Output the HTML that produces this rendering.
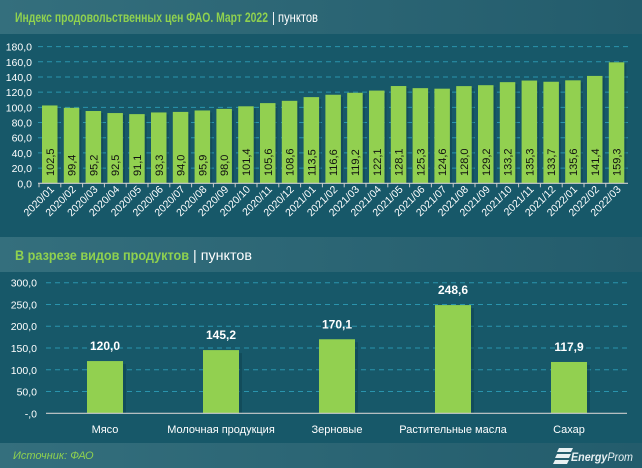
<!DOCTYPE html>
<html><head><meta charset="utf-8"><style>
body{margin:0;background:#175869;}
svg{display:block;font-family:"Liberation Sans",sans-serif;}
</style></head><body>
<svg width="642" height="468" viewBox="0 0 642 468" xmlns="http://www.w3.org/2000/svg">
<defs>
<linearGradient id="hg" x1="0" x2="1" y1="0" y2="0"><stop offset="0" stop-color="#346f7d"/><stop offset="1" stop-color="#235c6c"/></linearGradient>
</defs>
<rect width="642" height="468" fill="#175869"/>
<rect x="0" y="0" width="642" height="34" fill="url(#hg)"/>
<rect x="0" y="237" width="642" height="35" fill="url(#hg)"/>
<rect x="0" y="443" width="642" height="25" fill="url(#hg)"/>
<text x="15" y="22" font-size="14" font-weight="bold" fill="#8fd14f" textLength="253" lengthAdjust="spacingAndGlyphs">Индекс продовольственных цен ФАО. Март 2022</text>
<text x="272" y="22" font-size="14" fill="#ffffff" textLength="46" lengthAdjust="spacingAndGlyphs">| пунктов</text>
<text x="15" y="260" font-size="13.5" font-weight="bold" fill="#8fd14f" textLength="174" lengthAdjust="spacingAndGlyphs">В разрезе видов продуктов</text>
<text x="193" y="260" font-size="13.5" fill="#ffffff" textLength="59" lengthAdjust="spacingAndGlyphs">| пунктов</text>
<text x="13" y="459" font-size="11" font-style="italic" fill="#8fd14f">Источник: ФАО</text>
<g transform="translate(555,448)"><path d="M4 0h14l-2 4h-14z M2 6h14l-2 4h-14z M0 12h14l-2 4h-14z" fill="#e8f0f2"/></g>
<text x="571" y="461" font-size="12" font-weight="bold" font-style="italic" fill="#e8f0f2" textLength="62" lengthAdjust="spacingAndGlyphs">Energy<tspan font-weight="normal">Prom</tspan></text>
<g id="gtop"></g>
<g id="gbot"></g>
</svg>
<script>
var ns="http://www.w3.org/2000/svg";
function el(p,t,a,txt){var e=document.createElementNS(ns,t);for(var k in a)e.setAttribute(k,a[k]);if(txt!=null)e.textContent=txt;p.appendChild(e);return e;}
var gt=document.getElementById("gtop");
var vals=[102.5,99.4,95.2,92.5,91.1,93.3,94.0,95.9,98.0,101.4,105.6,108.6,113.5,116.6,119.2,122.1,128.1,125.3,124.6,128.0,129.2,133.2,135.3,133.7,135.6,141.4,159.3];
var labs=[];for(var yr=2020;yr<=2022;yr++)for(var m=1;m<=12;m++){labs.push(yr+"/"+(m<10?"0":"")+m);}
var y0=183.3,s=0.7594;
for(var i=0;i<=9;i++){var yy=y0-i*20*s;
 if(i>0)el(gt,"line",{x1:38,x2:628,y1:yy,y2:yy,stroke:"#2a94ad","stroke-width":1,"stroke-dasharray":"5,4"});
 el(gt,"text",{x:32,y:yy+4,"font-size":10.5,fill:"#fff","text-anchor":"end"},(i*20).toFixed(1).replace(".",","));}
for(var i=0;i<27;i++){var x=42+i*21.8,h=vals[i]*s;
 el(gt,"rect",{x:x+2,y:y0-h+2,width:15.5,height:h-2,fill:"#0e3f4d",opacity:0.5});
 el(gt,"rect",{x:x,y:y0-h,width:15.5,height:h,fill:"#92d050"});
 var cx=x+7.75;
 el(gt,"text",{x:0,y:0,"font-size":11,fill:"#111",transform:"translate("+(cx+4)+",176) rotate(-90)"},vals[i].toFixed(1).replace(".",","));
 el(gt,"text",{x:0,y:0,"font-size":10.5,fill:"#fff","text-anchor":"end",transform:"translate("+(cx+5)+",190) rotate(-45)"},labs[i]);
 el(gt,"line",{x1:x-3,x2:x-3,y1:y0,y2:y0+4,stroke:"#ccc"});
}
el(gt,"line",{x1:38,x2:628,y1:y0,y2:y0,stroke:"#ccc","stroke-width":1.2});
var gb=document.getElementById("gbot");
var b0=413.3,bs=0.4353;
var bv=[120.0,145.2,170.1,248.6,117.9],bl=["Мясо","Молочная продукция","Зерновые","Растительные масла","Сахар"];
for(var i=0;i<=6;i++){var yy=b0-i*50*bs;
 if(i>0)el(gb,"line",{x1:46,x2:627,y1:yy,y2:yy,stroke:"#2a94ad","stroke-width":1,"stroke-dasharray":"5,4"});
 el(gb,"text",{x:37,y:yy+4,"font-size":10.5,fill:"#fff","text-anchor":"end"},i==0?"-,0":(i*50).toFixed(1).replace(".",","));}
for(var i=0;i<5;i++){var cx=105+i*116,h=bv[i]*bs;
 el(gb,"rect",{x:cx-18+3,y:b0-h+3,width:36,height:h-3,fill:"#0e3f4d",opacity:0.5});
 el(gb,"rect",{x:cx-18,y:b0-h,width:36,height:h,fill:"#92d050"});
 el(gb,"text",{x:cx,y:b0-h-11,"font-size":12,"font-weight":"bold",fill:"#fff","text-anchor":"middle"},bv[i].toFixed(1).replace(".",","));
 el(gb,"text",{x:cx,y:433,"font-size":11,fill:"#fff","text-anchor":"middle"},bl[i]);
}
el(gb,"line",{x1:46,x2:627,y1:b0,y2:b0,stroke:"#ccc","stroke-width":1.2});
</script>
</body></html>
